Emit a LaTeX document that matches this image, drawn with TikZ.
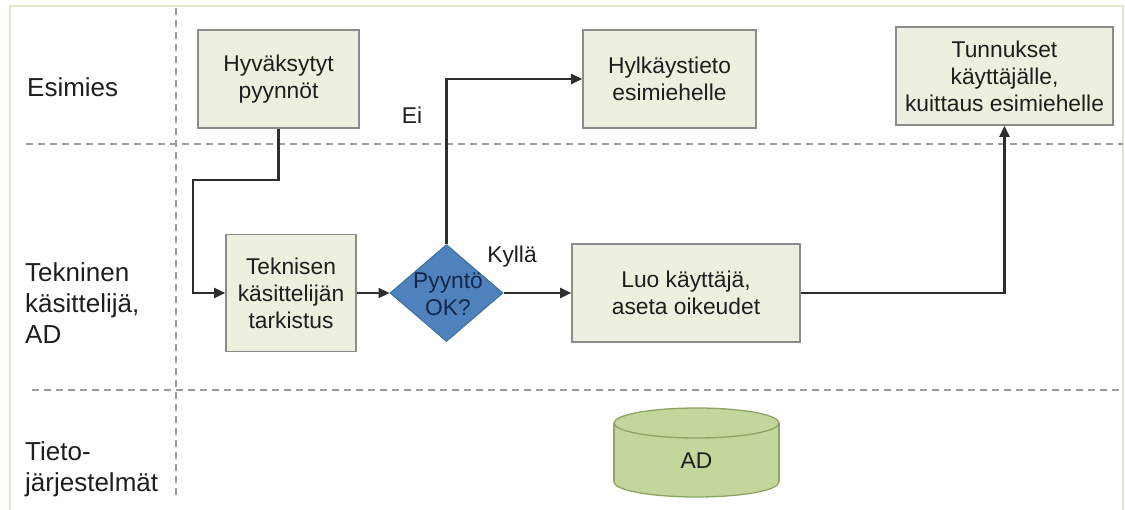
\documentclass[tikz,border=0pt]{standalone}
\usepackage{fontspec}
\setmainfont{Liberation Sans}
\usetikzlibrary{arrows.meta,shapes.geometric}
\definecolor{boxfill}{HTML}{EBF1DE}
\definecolor{boxdraw}{HTML}{8C8C8C}
\definecolor{diafill}{HTML}{4F81BD}
\definecolor{diadraw}{HTML}{41719C}
\definecolor{diatxt}{HTML}{14284B}
\definecolor{cylbody}{HTML}{C3D69B}
\definecolor{cyldraw}{HTML}{8EA465}
\definecolor{dashc}{HTML}{9C9C9C}
\definecolor{framec}{HTML}{E3E8CC}
\definecolor{linec}{HTML}{2E2E2E}
\definecolor{txt}{HTML}{1E1E1E}
\newcommand{\myboxfont}{\fontsize{22.8}{27}\selectfont}
\newcommand{\mylanefont}{\fontsize{26}{31}\selectfont}
\begin{document}
\begin{tikzpicture}[x=1pt,y=-1pt,
  proc/.style={draw=boxdraw, fill=boxfill, line width=1.6pt, align=center, inner sep=0pt, font=\myboxfont, text=txt},
  lane/.style={anchor=west, align=left, inner sep=0pt, font=\mylanefont, text=txt},
  conn/.style={draw=linec, line width=2.2pt},
  arr/.style={conn, -{Triangle[length=11pt,width=10pt]}},
  sep/.style={draw=dashc, line width=1.3pt, dash pattern=on 7pt off 5pt},
  lbl/.style={inner sep=0pt, font=\myboxfont, text=txt}]
\useasboundingbox (0,0) rectangle (1125,510);
% frame
\draw[framec, line width=1.5pt] (10,510) -- (10,6) -- (1123,6) -- (1123,510);
% lane separators
\draw[sep] (176,8) -- (176,497);
\draw[sep] (26,144) -- (1123,144);
\draw[sep] (32,390) -- (1123,390);
% lane labels
\node[lane] (l1) at (27,87) {Esimies};
\node[lane] (l2) at (25,303) {Tekninen\\käsittelijä,\\AD};
\node[lane] (l3) at (25,469) {Tieto-\\järjestelmät};
% process boxes
\node[proc, minimum width=161pt, minimum height=98pt] (hyv) at (278.5,79) {Hyväksytyt\\pyynnöt};
\node[proc, minimum width=173pt, minimum height=98pt] (hyl) at (669.5,79) {Hylkäystieto\\esimiehelle};
\node[proc, minimum width=217pt, minimum height=98pt] (tun) at (1004.5,76) {Tunnukset\\käyttäjälle,\\kuittaus esimiehelle};
\node[proc, minimum width=130pt, minimum height=117pt] (tek) at (291,293) {Teknisen\\käsittelijän\\tarkistus};
\node[proc, minimum width=228pt, minimum height=98pt] (luo) at (686,293) {Luo käyttäjä,\\aseta oikeudet};
% decision
\node[diamond, draw=diadraw, fill=diafill, line width=1pt, inner sep=0pt, minimum width=113pt, minimum height=97pt] (dia) at (446.5,293) {};
\node[lbl, align=center, text=diatxt] (diat) at (448,294) {Pyyntö\\OK?};
% database
\node[minimum width=165pt, minimum height=89pt, inner sep=0pt] (ad) at (696.5,452.5) {};
\filldraw[fill=cylbody, draw=cyldraw, line width=1.3pt] (696.5,482) ellipse [x radius=82.5, y radius=15];
\fill[cylbody] (614,423) rectangle (779,482);
\draw[cyldraw, line width=1.3pt] (614,423) -- (614,482) (779,423) -- (779,482);
\filldraw[fill=cylbody, draw=cyldraw, line width=1.3pt] (696.5,423) ellipse [x radius=82.5, y radius=15];
\node[lbl, text=txt] (adt) at (ad.center) [yshift=-8pt] {AD};
% connectors
\coordinate (j1) at (193,180);
\draw[arr] (hyv.south) |- (j1) |- (tek.west);
\draw[arr] (tek.east) -- (dia.west);
\draw[arr] (dia.north) |- (hyl.west);
\draw[arr] (dia.east) -- (luo.west);
\draw[arr] (luo.east) -| (tun.south);
% branch labels
\node[lbl] (ei) at (412,115) {Ei};
\node[lbl] (ky) at (512,257) {Kyllä};
\end{tikzpicture}
\end{document}
